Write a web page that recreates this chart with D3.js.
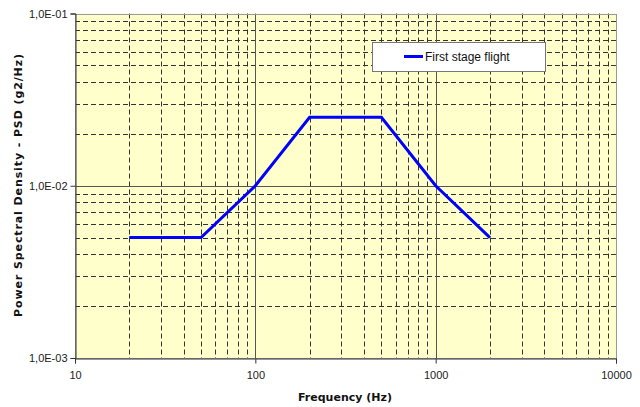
<!DOCTYPE html>
<html><head><meta charset="utf-8">
<script src="https://cdn.jsdelivr.net/npm/d3@7"></script>
<style>body{margin:0;background:#fff}svg{display:block}</style>
</head><body>
<script>
const freq = [20, 50, 100, 200, 500, 1000, 2000];
const psd = [0.005, 0.005, 0.01, 0.025, 0.025, 0.01, 0.005];
const seriesName = "First stage flight";
const xTicks = [10, 100, 1000, 10000];
const yTicks = [0.001, 0.01, 0.1];
const yTickLabels = ["1,0E-03", "1,0E-02", "1,0E-01"];

const W = 640, H = 407;
const m = {left: 75, right: 24, top: 13.5, bottom: 49};
const svg = d3.select("body").append("svg").attr("width", W).attr("height", H);
const x = d3.scaleLog().domain([10, 10000]).range([m.left, W - m.right]);
const y = d3.scaleLog().domain([0.001, 0.1]).range([H - m.bottom, m.top]);

svg.append("rect").attr("x", m.left).attr("y", m.top)
  .attr("width", x(10000) - m.left).attr("height", y(0.001) - m.top)
  .attr("fill", "#ffffcc");

const minorX = [], minorY = [];
for (let d = 10; d < 10000; d *= 10) for (let k = 2; k < 10; k++) minorX.push(d * k);
for (let d = 0.001; d < 0.1 - 1e-9; d *= 10) for (let k = 2; k < 10; k++) minorY.push(d * k);

const g = svg.append("g");
g.selectAll(".mx").data(minorX).join("line")
  .attr("x1", d => Math.round(x(d)) + 0.5).attr("x2", d => Math.round(x(d)) + 0.5)
  .attr("y1", y(0.1)).attr("y2", y(0.001))
  .attr("stroke", "#333").attr("stroke-width", 1).attr("stroke-dasharray", "5,3");
g.selectAll(".my").data(minorY).join("line")
  .attr("y1", d => Math.round(y(d)) + 0.5).attr("y2", d => Math.round(y(d)) + 0.5)
  .attr("x1", x(10)).attr("x2", x(10000))
  .attr("stroke", "#333").attr("stroke-width", 1).attr("stroke-dasharray", "5,3");
g.selectAll(".Mx").data(xTicks.slice(1, -1)).join("line")
  .attr("x1", d => Math.round(x(d)) + 0.5).attr("x2", d => Math.round(x(d)) + 0.5)
  .attr("y1", y(0.1)).attr("y2", y(0.001))
  .attr("stroke", "#555").attr("stroke-width", 1);
g.selectAll(".My").data(yTicks.slice(1, -1)).join("line")
  .attr("y1", d => Math.round(y(d)) + 0.5).attr("y2", d => Math.round(y(d)) + 0.5)
  .attr("x1", x(10)).attr("x2", x(10000))
  .attr("stroke", "#555").attr("stroke-width", 1);

// border
svg.append("rect").attr("x", m.left + 0.5).attr("y", Math.round(m.top) + 0.5)
  .attr("width", x(10000) - m.left).attr("height", y(0.001) - Math.round(m.top))
  .attr("fill", "none").attr("stroke", "#999");

// axes
const xAxis = d3.axisBottom(x).tickValues(xTicks).tickFormat(d3.format("d")).tickSizeOuter(0).tickSize(5).tickPadding(8);
const gx = svg.append("g").attr("transform", `translate(0,${Math.round(y(0.001)) + 0.5})`).call(xAxis);
gx.select(".domain").attr("stroke", "#333");
gx.selectAll(".tick line").attr("stroke", "#333");
gx.selectAll("text").attr("font-family", "Liberation Sans, Arial, sans-serif").attr("font-size", 11).attr("fill", "#222");

const yAxis = d3.axisLeft(y).tickValues(yTicks).tickFormat((d, i) => yTickLabels[i]).tickSizeOuter(0).tickSize(5).tickPadding(3);
const gy = svg.append("g").attr("transform", `translate(${m.left + 0.5},0)`).call(yAxis);
gy.select(".domain").attr("stroke", "#333");
gy.selectAll(".tick line").attr("stroke", "#333");
gy.selectAll("text").attr("font-family", "Liberation Sans, Arial, sans-serif").attr("font-size", 11).attr("fill", "#222");

// line
svg.append("path").datum(freq.map((f, i) => [f, psd[i]]))
  .attr("d", d3.line().x(d => x(d[0])).y(d => y(d[1])))
  .attr("fill", "none").attr("stroke", "#0000ff").attr("stroke-width", 3);

// titles
svg.append("text").attr("x", 345).attr("y", 401).attr("text-anchor", "middle")
  .attr("font-family", "DejaVu Sans, Verdana, sans-serif").attr("font-weight", "bold").attr("font-size", 11)
  .attr("fill", "#111").text("Frequency (Hz)");
svg.append("text").attr("transform", "translate(22,185) rotate(-90)").attr("text-anchor", "middle")
  .attr("font-family", "DejaVu Sans, Verdana, sans-serif").attr("font-weight", "bold").attr("font-size", 11)
  .attr("letter-spacing", "0.9px")
  .attr("fill", "#111").text("Power Spectral Density - PSD (g2/Hz)");

// legend
const lg = svg.append("g");
lg.append("rect").attr("x", 372.5).attr("y", 42.5).attr("width", 173).attr("height", 29)
  .attr("fill", "#fff").attr("stroke", "#777");
lg.append("line").attr("x1", 404).attr("x2", 423).attr("y1", 56.5).attr("y2", 56.5)
  .attr("stroke", "#0000ff").attr("stroke-width", 3);
lg.append("text").attr("x", 425).attr("y", 61).attr("font-family", "Liberation Sans, Arial, sans-serif")
  .attr("font-size", 12).attr("fill", "#111").text(seriesName);
</script>
</body></html>
